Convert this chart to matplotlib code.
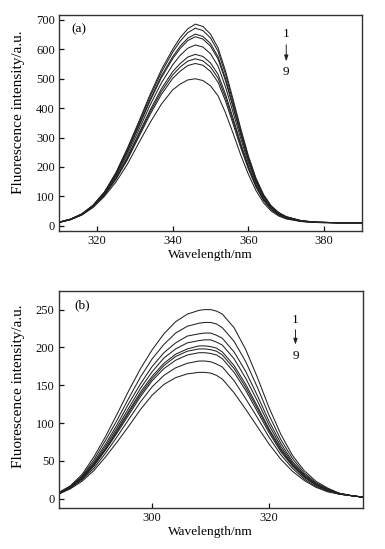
import matplotlib
matplotlib.use("Agg")
import matplotlib.pyplot as plt

plt.rcParams['font.family'] = ['Liberation Serif', 'DejaVu Serif']

# ---------------- Panel (a) data ----------------
wl_a = [310, 313, 316, 319, 322, 325, 328, 331, 334, 337, 340, 342, 344, 346, 348,
        350, 352, 354, 356, 358, 360, 362, 364, 366, 368, 370, 374, 378, 384, 390]
a1 = [12, 22, 40, 70, 115, 180, 262, 352, 445, 530, 600, 640, 670, 686, 678, 652, 605, 525, 428, 330, 238, 162, 106, 68, 45, 31, 17, 12, 10, 10]
a2 = [12, 22, 40, 69, 114, 178, 258, 347, 438, 521, 590, 628, 657, 672, 664, 639, 593, 514, 419, 323, 233, 159, 104, 67, 44, 30, 17, 12, 10, 10]
a3 = [12, 22, 39, 69, 112, 174, 252, 339, 428, 509, 575, 611, 638, 652, 644, 620, 575, 499, 407, 314, 226, 154, 101, 65, 43, 30, 16, 12, 10, 10]
a4 = [12, 22, 39, 68, 112, 173, 250, 335, 423, 503, 568, 603, 630, 643, 635, 611, 567, 492, 401, 309, 223, 152, 100, 64, 42, 29, 16, 12, 10, 10]
a5 = [12, 21, 38, 67, 109, 168, 241, 324, 409, 485, 547, 580, 604, 615, 608, 585, 543, 471, 384, 296, 214, 146, 95, 61, 40, 28, 16, 12, 10, 10]
a6 = [11, 21, 38, 66, 107, 162, 232, 312, 392, 465, 524, 552, 574, 583, 576, 554, 515, 446, 364, 280, 203, 139, 90, 58, 38, 27, 15, 11, 10, 10]
a7 = [11, 21, 37, 65, 105, 160, 228, 306, 385, 456, 513, 540, 560, 568, 561, 540, 502, 435, 355, 273, 198, 135, 88, 57, 37, 26, 15, 11, 10, 10]
a8 = [11, 21, 37, 64, 104, 157, 223, 300, 377, 446, 501, 526, 545, 552, 546, 525, 488, 423, 345, 265, 193, 132, 86, 55, 36, 25, 15, 11, 10, 10]
a9 = [11, 20, 36, 62, 100, 148, 208, 280, 350, 413, 462, 482, 496, 500, 494, 476, 442, 383, 313, 240, 175, 120, 78, 50, 33, 23, 14, 11, 10, 10]
series_a = [a1, a2, a3, a4, a5, a6, a7, a8, a9]

# ---------------- Panel (b) data ----------------
wl_b = [284, 286, 288, 290, 292, 294, 296, 298, 300, 302, 304, 306, 308, 309,
        310, 311, 312, 314, 316, 318, 320, 322, 324, 326, 328, 330, 332, 334, 336]
b1 = [8, 17, 32, 55, 82, 112, 143, 172, 197, 218, 234, 244, 249, 250, 250, 248, 244, 226, 197, 160, 120, 85, 57, 37, 23, 14, 7, 4, 2]
b2 = [8, 16, 30, 51, 77, 104, 133, 161, 185, 204, 219, 228, 232, 233, 233, 231, 226, 208, 181, 147, 110, 78, 53, 34, 21, 13, 7, 4, 2]
b3 = [7, 16, 29, 48, 72, 98, 126, 152, 175, 193, 206, 215, 218, 219, 219, 216, 212, 194, 168, 136, 102, 73, 49, 32, 20, 12, 7, 4, 2]
b4 = [7, 15, 28, 46, 69, 94, 120, 146, 168, 186, 198, 206, 209, 210, 210, 207, 203, 185, 159, 129, 97, 69, 47, 31, 19, 12, 7, 4, 2]
b5 = [7, 15, 27, 45, 66, 91, 116, 141, 162, 179, 191, 198, 202, 202, 201, 199, 194, 176, 151, 122, 92, 66, 45, 29, 18, 11, 6, 4, 2]
b6 = [7, 15, 26, 44, 65, 89, 114, 138, 159, 176, 188, 195, 198, 198, 197, 195, 190, 172, 147, 119, 90, 64, 44, 29, 18, 11, 6, 4, 2]
b7 = [7, 14, 26, 43, 64, 87, 111, 135, 156, 172, 183, 190, 193, 193, 192, 190, 185, 167, 143, 115, 87, 62, 43, 28, 18, 11, 6, 4, 2]
b8 = [6, 14, 25, 40, 60, 82, 105, 128, 148, 163, 173, 179, 182, 182, 181, 178, 174, 156, 132, 107, 81, 58, 40, 26, 16, 10, 6, 4, 2]
b9 = [6, 13, 23, 37, 55, 75, 96, 118, 137, 151, 160, 165, 167, 167, 166, 163, 158, 140, 118, 95, 72, 52, 36, 24, 15, 9, 6, 4, 2]
series_b = [b1, b2, b3, b4, b5, b6, b7, b8, b9]

xticks_a = [320, 340, 360, 380]
yticks_a = [0, 100, 200, 300, 400, 500, 600, 700]
xticks_b = [300, 320]
yticks_b = [0, 50, 100, 150, 200, 250]

W, H = 385, 549
fig = plt.figure(figsize=(W / 100, H / 100), dpi=100)

ax_a = fig.add_axes([59 / W, 1 - 231 / H, 303 / W, 216 / H])
ax_b = fig.add_axes([58.7 / W, 1 - 507.7 / H, 304 / W, 217 / H])


def style(ax, xt, yt, xlim, ylim, ylab_y):
    ax.set_xlim(*xlim)
    ax.set_ylim(*ylim)
    ax.set_xticks(xt)
    ax.set_yticks(yt)
    ax.tick_params(direction='in', length=3.5, width=0.9, labelsize=9,
                   top=False, right=False, pad=3, colors='#111111')
    for s in ax.spines.values():
        s.set_linewidth(1.0)
        s.set_color('#333333')
    ax.set_xlabel('Wavelength/nm', fontsize=9.6, labelpad=1.5)
    ax.set_ylabel('Fluorescence intensity/a.u.', fontsize=11)
    ax.yaxis.set_label_coords(-0.112, ylab_y)


for s in series_a:
    ax_a.plot(wl_a, s, color='#222222', lw=0.75)
for s in series_b:
    ax_b.plot(wl_b, s, color='#222222', lw=0.75)

style(ax_a, xticks_a, yticks_a, (310, 390), (-18, 717), 0.549)
style(ax_b, xticks_b, yticks_b, (284, 336), (-12, 275), 0.559)

ax_a.text(0.066, 0.935, '(a)', transform=ax_a.transAxes, fontsize=9.5,
          ha='center', va='center')
ax_b.text(0.076, 0.935, '(b)', transform=ax_b.transAxes, fontsize=9.5,
          ha='center', va='center')

# "1 -> 9" annotations
ax_a.text(370, 652, '1', fontsize=9.5, ha='center', va='center')
ax_a.annotate('', xy=(370, 550), xytext=(370, 625),
              arrowprops=dict(arrowstyle='-|>,head_length=0.35,head_width=0.12',
                              color='#222222', lw=0.7))
ax_a.text(370, 522, '9', fontsize=9.5, ha='center', va='center')

ax_b.text(324.5, 236, '1', fontsize=9.5, ha='center', va='center')
ax_b.annotate('', xy=(324.5, 200), xytext=(324.5, 227),
              arrowprops=dict(arrowstyle='-|>,head_length=0.35,head_width=0.12',
                              color='#222222', lw=0.7))
ax_b.text(324.5, 188, '9', fontsize=9.5, ha='center', va='center')

fig.savefig('out.png', dpi=100)
